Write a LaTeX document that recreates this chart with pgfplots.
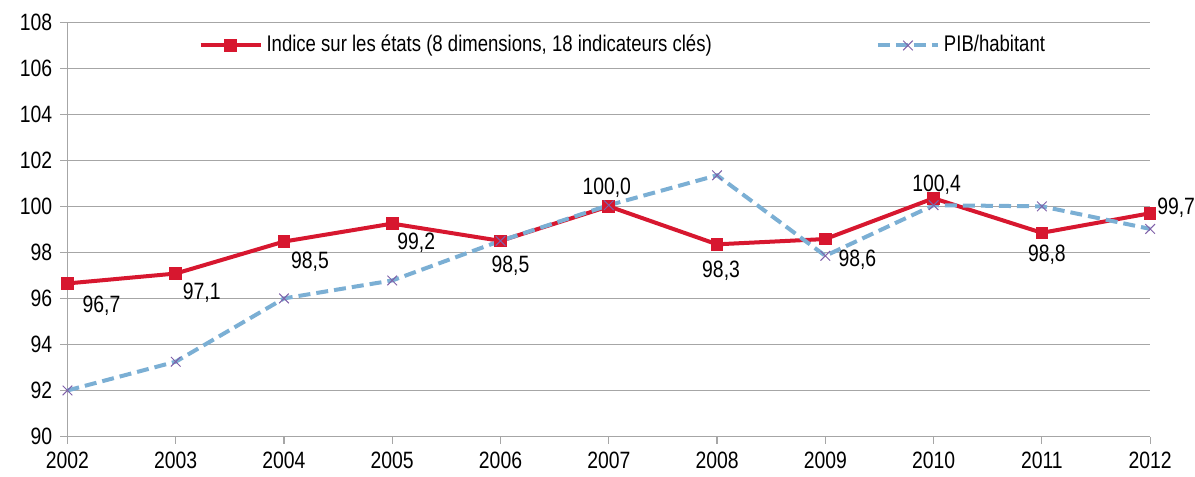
\documentclass[border={6pt 0pt 0pt 3pt}]{standalone}
\usepackage{fontspec}
\setmainfont{Liberation Sans}[FakeStretch=0.82]
\usepackage{pgfplots}
\usepackage{pgfplotstable}
\pgfplotsset{compat=1.18}
\definecolor{indred}{HTML}{D7172F}
\definecolor{pibblue}{HTML}{7BAFD4}
\definecolor{pibmark}{HTML}{7F60A8}
\definecolor{gridgray}{HTML}{A6A6A6}

% Indice sur les etats, with label text and label offsets (pt)
\pgfplotstableread{
x     y      lab    dx    dy
2002  96.65  96,7   17    -11
2003  97.08  97,1   13    -9.5
2004  98.47  98,5   13    -10
2005  99.25  99,2   12    -9.5
2006  98.50  98,5   5     -12.5
2007  100.0  100,0  -1    9.5
2008  98.35  98,3   2     -13
2009  98.58  98,6   16    -10.5
2010  100.35 100,4  1.5   7
2011  98.85  98,8   2.5   -11
2012  99.70  99,7   13    2.5
}\indice

\pgfplotstableread{
x     y
2002  92.00
2003  93.25
2004  96.00
2005  96.78
2006  98.50
2007  100.05
2008  101.35
2009  97.85
2010  100.05
2011  100.00
2012  99.02
}\pib

\begin{document}
\fontsize{11.8}{13}\selectfont
\begin{tikzpicture}
\begin{axis}[
  scale only axis,
  width=541pt, height=207pt,
  xmin=2002, xmax=2012, ymin=90, ymax=108,
  xtick={2002,2003,...,2012},
  ytick={90,92,...,108},
  /pgf/number format/assume math mode=true,
  x tick label style={/pgf/number format/1000 sep={}},
  axis lines=left,
  axis line style={-, draw=gridgray, line width=0.6pt},
  tick style={draw=gridgray, line width=0.6pt},
  tick align=outside,
  major tick length=3.5pt,
  ymajorgrids,
  grid style={draw=gridgray, line width=0.6pt},
  clip=false,
  legend columns=2,
  legend style={at={(0.117,0.944)}, anchor=west, draw=none, fill=white,
    inner sep=2pt, font=\fontsize{11.3}{13}\selectfont,
    /tikz/every even column/.append style={column sep=80pt}},
  legend cell align=left,
  legend image code/.code={\draw[mark repeat=2,mark phase=2,#1] plot coordinates {(0pt,0pt) (15pt,0pt) (30pt,0pt)};},
]
\addplot[indred, line width=2pt, mark=square*, mark size=2.9pt,
  mark options={solid, fill=indred, draw=indred, line width=0pt},
  point meta=explicit symbolic,
  visualization depends on={\thisrow{dx}\as\dx},
  visualization depends on={\thisrow{dy}\as\dy},
  nodes near coords,
  every node near coord/.append style={anchor=center, inner sep=0pt, text=black,
    xshift=\dx pt, yshift=\dy pt}
] table[x=x, y=y, meta=lab] {\indice};
\addlegendentry{Indice sur les états (8 dimensions, 18 indicateurs clés)}
\addplot[pibblue, line width=2pt, dash pattern=on 6pt off 3pt, mark=x, mark size=3.4pt,
  mark options={solid, draw=pibmark, line width=0.5pt}] table[x=x, y=y] {\pib};
\addlegendentry{PIB/habitant}
\end{axis}
\end{tikzpicture}
\end{document}
